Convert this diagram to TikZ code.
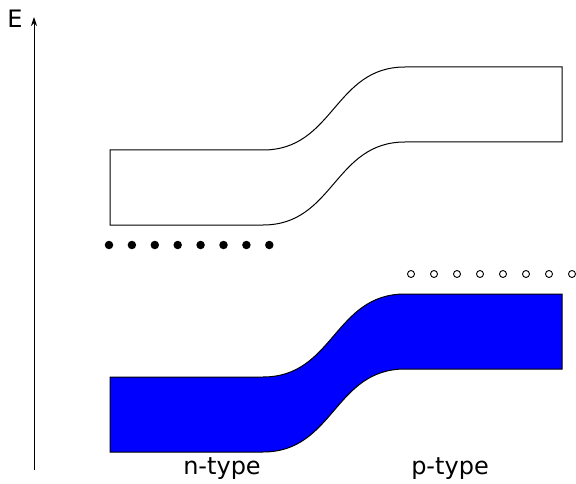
\documentclass[tikz,border=0pt]{standalone}
\usepackage{fontspec}
\setmainfont{DejaVu Sans}
\usetikzlibrary{arrows.meta}
\begin{document}
\begin{tikzpicture}[x=1pt,y=-1pt,
  band/.style={draw=black,line width=1pt},
  lbl/.style={font=\fontsize{24}{28}\selectfont,inner sep=0pt},
  electron/.style={circle,fill=black,inner sep=0pt,minimum size=8.5pt},
  hole/.style={circle,draw=black,line width=0.9pt,fill=white,inner sep=0pt,minimum size=7pt}]
\useasboundingbox (0,0) rectangle (576,484);
% axis
\coordinate (a0) at (34,470);
\coordinate (a1) at (34,17);
\draw[line width=1pt,-{Stealth[length=9pt,width=6pt]}] (a0) -- (a1);
\node[lbl,anchor=center] (E) at (15,19) {E};
% conduction band
\draw[band] (110,150) -- (263,150) .. controls (334,150) and (334,67) .. (405,67) -- (562,67)
  -- (562,142) -- (405,142) .. controls (334,142) and (334,225) .. (263,225) -- (110,225) -- cycle;
% valence band
\draw[band,fill={rgb,255:red,0;green,0;blue,255}] (110,377) -- (263,377) .. controls (334,377) and (334,294) .. (405,294) -- (562,294)
  -- (562,369) -- (405,369) .. controls (334,369) and (334,452) .. (263,452) -- (110,452) -- cycle;
% electrons
\foreach \i in {0,...,7} {
  \node[electron] (e\i) at ({109+22.9*\i},245) {};
}
% holes
\foreach \i in {0,...,7} {
  \node[hole] (h\i) at ({411+23*\i},274) {};
}
% labels
\node[lbl] (n) at (222,469) {n-type};
\node[lbl] (p) at (450,469) {p-type};
\end{tikzpicture}
\end{document}
